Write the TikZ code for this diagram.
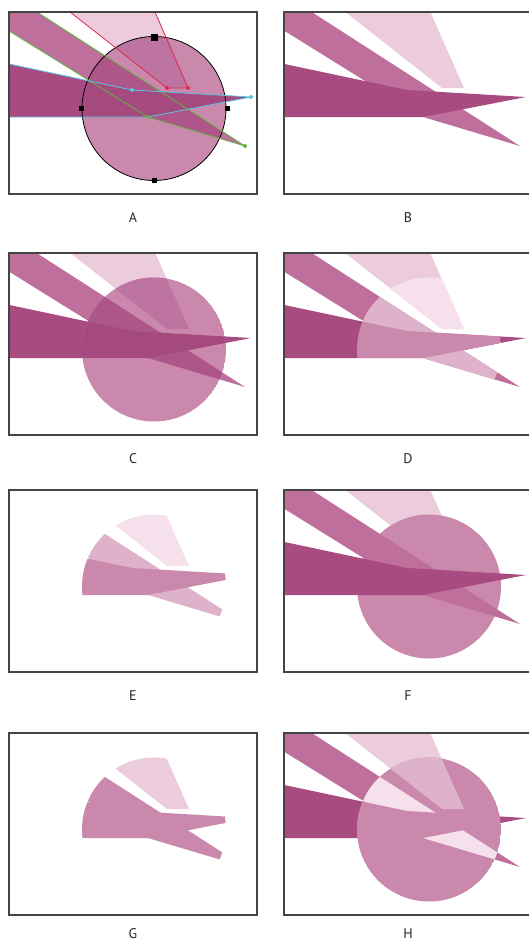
\documentclass[tikz,border=0pt]{standalone}
\usepackage{fontspec}
\setmainfont{PT Sans}
\usetikzlibrary{positioning}
\definecolor{FrameGray}{HTML}{444444}
\definecolor{Petal}{HTML}{EBCBDC}
\definecolor{Mauve}{HTML}{BE6F9B}
\definecolor{Plum}{HTML}{A84B80}
\definecolor{Rose}{HTML}{C988AC}
\definecolor{PaleBand}{HTML}{DFB2CC}
\definecolor{PaleLight}{HTML}{F5E0EB}
\definecolor{DeepLight}{HTML}{BE74A0}
\definecolor{DeepBand}{HTML}{AE5589}
\definecolor{DeepDark}{HTML}{A44A7E}
\definecolor{PathRed}{HTML}{E02A4E}
\definecolor{PathGreen}{HTML}{62B441}
\definecolor{PathBlue}{HTML}{5CC3E4}

% the three shapes and the disc, in panel A coordinates
\newcommand{\shapeLight}{(55,0) -- (150,0) -- (189,88) -- (167,88) -- cycle}
\newcommand{\shapeBand}{(18,0) -- (245,146) -- (148,117) -- (0,25) -- (0,0) -- cycle}
\newcommand{\shapeDark}{(0,62) -- (132,90) -- (251,97) -- (148,117) -- (0,117) -- cycle}
\newcommand{\shapeDisc}{(154,108.5) circle[radius=72]}
\newcommand{\panelClip}{\clip (9,12) rectangle (257,194);}

\begin{document}
\begin{tikzpicture}[x=1pt,y=-1pt,
      every node/.style={font=\fontsize{14}{16}\selectfont},
      panel/.style={draw=FrameGray,line width=1.4pt,minimum width=248pt,
                    minimum height=182pt,inner sep=0pt},
      tag/.style={inner sep=1pt,text=black!85},
      handle/.style={fill=black,minimum size=5pt,inner sep=0pt},
      edit/.style={line width=0.8pt}
    ]
      \useasboundingbox (0,0) rectangle (529,945);

      % A: artwork with the disc and its paths
      \begin{scope}
        \panelClip
        \fill[Petal] \shapeLight;
        \fill[Mauve] \shapeBand;
        \fill[Plum] \shapeDark;
        \begin{scope}
          \clip \shapeDisc;
          \fill[Rose] \shapeDisc;
          \fill[DeepLight] \shapeLight;
          \fill[DeepBand] \shapeBand;
          \fill[DeepDark] \shapeDark;
        \end{scope}
        \draw[line width=0.8pt] \shapeDisc;
        \draw[edit,PathRed] (70,12) -- (167,88) -- (188,88) -- (155,12);
        \draw[edit,PathGreen] (37,12) -- (245,146);
        \draw[edit,PathGreen] (9,31) -- (148,117) -- (245,146);
        \draw[edit,PathBlue] (9,64) -- (132,90) -- (251,97) -- (148,117) -- (9,117);
        \foreach \px/\py in {167/88,188/88}
          \fill[PathRed] (\px,\py) circle[radius=2];
        \foreach \px/\py in {148/117,245/146}
          \fill[PathGreen] (\px,\py) circle[radius=2];
        \foreach \px/\py in {132/90,251/97}
          \fill[PathBlue] (\px,\py) circle[radius=2];
        \foreach \hName/\px/\py in {hL/81/108.5,hR/227/108.5,hB/154/180}
          \node[handle] (\hName) at (\px,\py) {};
        \node[handle,minimum size=7pt] (hT) at (154,37) {};
      \end{scope}

      % B: shapes only
      \begin{scope}[shift={(275,0)}]
        \panelClip
        \fill[Petal] \shapeLight;
        \fill[Mauve] \shapeBand;
        \fill[Plum] \shapeDark;
      \end{scope}

      % C
      \begin{scope}[shift={(0,241)}]
        \panelClip
        \fill[Petal] \shapeLight;
        \fill[Mauve] \shapeBand;
        \fill[Plum] \shapeDark;
        \begin{scope}
          \clip \shapeDisc;
          \fill[Rose] \shapeDisc;
          \fill[DeepLight] \shapeLight;
          \fill[DeepBand] \shapeBand;
          \fill[DeepDark] \shapeDark;
        \end{scope}
      \end{scope}

      % D
      \begin{scope}[shift={(275,241)}]
        \panelClip
        \fill[Petal] \shapeLight;
        \fill[Mauve] \shapeBand;
        \fill[Plum] \shapeDark;
        \begin{scope}
          \clip \shapeDisc;
          \fill[PaleLight] \shapeLight;
          \fill[PaleBand] \shapeBand;
          \fill[Rose] \shapeDark;
        \end{scope}
      \end{scope}

      % E
      \begin{scope}[shift={(0,478)}]
        \panelClip
        \clip \shapeDisc;
        \fill[PaleLight] \shapeLight;
        \fill[PaleBand] \shapeBand;
        \fill[Rose] \shapeDark;
      \end{scope}

      % F
      \begin{scope}[shift={(275,478)}]
        \panelClip
        \fill[Petal] \shapeLight;
        \fill[Rose] \shapeDisc;
        \fill[Mauve] \shapeBand;
        \fill[Plum] \shapeDark;
      \end{scope}

      % G
      \begin{scope}[shift={(0,721)}]
        \panelClip
        \clip \shapeDisc;
        \fill[Petal] \shapeLight;
        \fill[Rose] \shapeBand;
        \fill[Rose] \shapeDark;
      \end{scope}

      % H
      \begin{scope}[shift={(275,721)}]
        \panelClip
        \fill[Petal] \shapeLight;
        \fill[Mauve] \shapeBand;
        \fill[Plum] \shapeDark;
        \begin{scope}
          \clip \shapeDisc;
          \fill[Rose] \shapeDisc;
          \fill[PaleBand] \shapeLight;
          \fill[PaleLight] \shapeBand;
          \fill[Rose] \shapeDark;
        \end{scope}
      \end{scope}

      \foreach \nm/\cx/\cy in {A/133/103,B/408/103,C/133/344,D/408/344,
                               E/133/581,F/408/581,G/133/824,H/408/824}
        \node[panel] (p\nm) at (\cx,\cy) {};
      \foreach \nm/\gap in {A/17pt,B/17pt,C/17pt,D/17pt,E/17pt,F/17pt,G/12pt,H/12pt}
        \node[tag,below=\gap of p\nm] (l\nm) {\nm};
    \end{tikzpicture}
\end{document}
